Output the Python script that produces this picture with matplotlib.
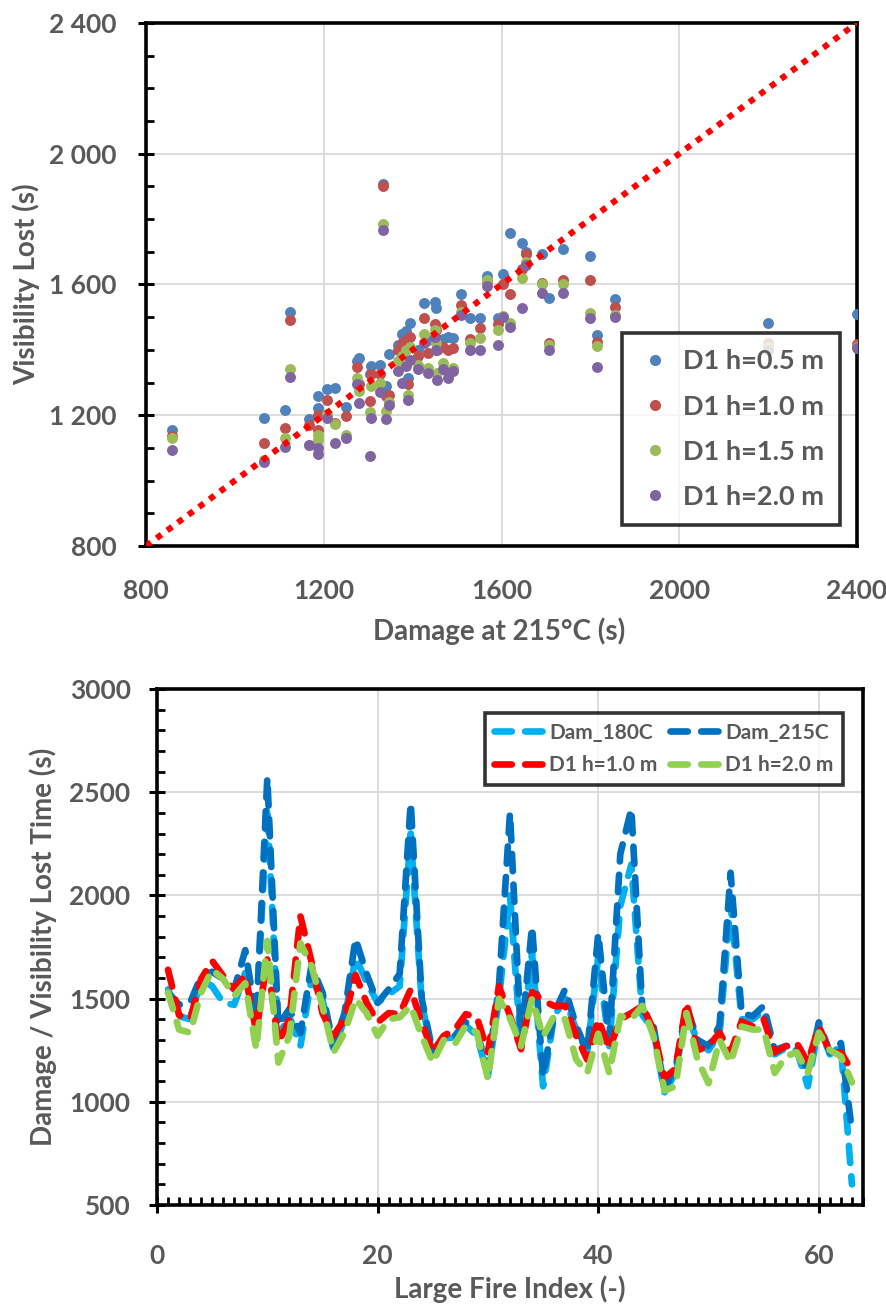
import matplotlib
matplotlib.use("Agg")
import matplotlib.pyplot as plt
from matplotlib.ticker import MultipleLocator, FuncFormatter
from matplotlib.lines import Line2D

# ---------------- data : bottom panel (per large fire) ----------------
fire_index = list(range(1, 64))

dam_180 = [1545, 1415, 1400, 1595, 1560, 1480, 1470, 1625, 1400, 2430,
           1320, 1415, 1270, 1595, 1497, 1250, 1400, 1700, 1580, 1480,
           1520, 1560, 2300, 1480, 1220, 1310, 1310, 1370, 1320, 1125,
           1500, 2000, 1260, 1720, 1075, 1415, 1500, 1350, 1240, 1700,
           1270, 1950, 2150, 1420, 1350, 1045, 1140, 1440, 1290, 1250,
           1330, 1960, 1400, 1400, 1440, 1230, 1260, 1250, 1075, 1370,
           1230, 1270, 600]

dam_215 = [1530, 1470, 1480, 1610, 1630, 1595, 1545, 1735, 1400, 2570,
           1370, 1450, 1333, 1660, 1530, 1270, 1430, 1790, 1620, 1480,
           1545, 1620, 2450, 1500, 1240, 1320, 1320, 1385, 1335, 1160,
           1560, 2400, 1300, 1850, 1125, 1430, 1545, 1370, 1240, 1815,
           1300, 2200, 2420, 1450, 1370, 1065, 1160, 1465, 1300, 1270,
           1370, 2110, 1430, 1415, 1465, 1250, 1270, 1270, 1140, 1385,
           1240, 1285, 860]

vis_h10 = [1640, 1420, 1400, 1595, 1683, 1610, 1545, 1615, 1340, 1690,
           1285, 1400, 1900, 1680, 1430, 1320, 1400, 1615, 1480, 1385,
           1430, 1425, 1545, 1385, 1240, 1320, 1350, 1425, 1410, 1240,
           1560, 1418, 1255, 1532, 1490, 1465, 1465, 1320, 1205, 1400,
           1255, 1400, 1430, 1465, 1350, 1115, 1160, 1480, 1250, 1270,
           1335, 1240, 1390, 1365, 1400, 1240, 1270, 1285, 1190, 1365,
           1240, 1240, 1150]

vis_h20 = [1530, 1350, 1335, 1530, 1640, 1595, 1513, 1575, 1255, 1780,
           1190, 1320, 1768, 1660, 1465, 1240, 1335, 1498, 1430, 1320,
           1400, 1410, 1465, 1320, 1190, 1300, 1280, 1370, 1335, 1110,
           1500, 1405, 1270, 1500, 1316, 1415, 1400, 1205, 1140, 1330,
           1140, 1415, 1400, 1465, 1320, 1055, 1075, 1430, 1205, 1090,
           1300, 1190, 1365, 1350, 1350, 1140, 1220, 1240, 1140, 1335,
           1250, 1220, 1094]

# ---------------- data : top panel (scatter) ----------------
sc_damage = [858, 1065, 1113, 1125, 1166, 1188, 1186, 1207, 1226, 1250,
             1275, 1280, 1305, 1307, 1326, 1333, 1341, 1346, 1367, 1375,
             1386, 1390, 1394, 1412, 1426, 1435, 1450, 1452, 1455, 1469,
             1480, 1491, 1508, 1529, 1551, 1568, 1592, 1604, 1619, 1645,
             1656, 1690, 1707, 1739, 1799, 1815, 1855, 2199, 2400]
sc_h05 = [1156, 1192, 1217, 1516, 1187, 1223, 1258, 1281, 1284, 1224,
          1367, 1376, 1325, 1350, 1355, 1906, 1289, 1386, 1416, 1447,
          1457, 1314, 1483, 1400, 1542, 1430, 1547, 1529, 1420, 1432,
          1440, 1437, 1571, 1498, 1498, 1625, 1498, 1631, 1758, 1727,
          1700, 1692, 1559, 1709, 1687, 1444, 1556, 1483, 1509]
sc_h10 = [1136, 1115, 1161, 1490, 1171, 1156, 1200, 1248, 1177, 1197,
          1347, 1296, 1243, 1325, 1325, 1900, 1258, 1263, 1400, 1420,
          1430, 1294, 1440, 1380, 1498, 1391, 1478, 1462, 1400, 1410,
          1400, 1406, 1537, 1432, 1467, 1610, 1478, 1600, 1572, 1646,
          1692, 1605, 1421, 1615, 1615, 1423, 1532, 1420, 1418]
sc_h15 = [1129, 1062, 1129, 1340, 1110, 1123, 1140, 1205, 1172, 1139,
          1314, 1274, 1210, 1290, 1300, 1784, 1212, 1240, 1365, 1380,
          1400, 1263, 1410, 1355, 1450, 1345, 1462, 1420, 1330, 1360,
          1330, 1345, 1515, 1420, 1437, 1615, 1462, 1503, 1483, 1620,
          1670, 1600, 1416, 1600, 1513, 1411, 1508, 1410, 1410]
sc_h20 = [1094, 1057, 1103, 1316, 1108, 1100, 1080, 1190, 1115, 1129,
          1296, 1236, 1075, 1192, 1270, 1768, 1187, 1230, 1335, 1300,
          1350, 1248, 1370, 1340, 1420, 1330, 1440, 1400, 1309, 1340,
          1314, 1335, 1508, 1401, 1401, 1595, 1414, 1500, 1470, 1529,
          1661, 1575, 1401, 1575, 1498, 1348, 1500, 1400, 1405]

scatter_labels = ["D1 h=0.5 m", "D1 h=1.0 m", "D1 h=1.5 m", "D1 h=2.0 m"]
line_labels = ["Dam_180C", "Dam_215C", "D1 h=1.0 m", "D1 h=2.0 m"]

# ---------------- style ----------------
GREY = "#595959"
plt.rcParams["font.family"] = ["Lato", "DejaVu Sans"]
plt.rcParams["font.weight"] = "bold"
TICK_FS = 19
LAB_FS = 20

fig = plt.figure(figsize=(8.87, 13.04), dpi=100)

# ================= top scatter =================
ax1 = fig.add_axes([0.1646, 0.5813, 0.8016, 0.4011])
sc_colors = ["#4F81BD", "#C0504D", "#9BBB59", "#8064A2"]
for yv, c, lab in zip([sc_h05, sc_h10, sc_h15, sc_h20], sc_colors, scatter_labels):
    ax1.scatter(sc_damage, yv, s=62, color=c, label=lab, zorder=3, linewidths=0)
ax1.plot([800, 2400], [800, 2400], color="#FF0000", lw=4.4,
         linestyle=(0, (1, 1.15)), dash_capstyle="butt", zorder=4)
ax1.set_xlim(800, 2400)
ax1.set_ylim(800, 2400)
ax1.xaxis.set_major_locator(MultipleLocator(400))
ax1.yaxis.set_major_locator(MultipleLocator(400))
ax1.yaxis.set_minor_locator(MultipleLocator(100))
ax1.yaxis.set_major_formatter(FuncFormatter(lambda v, p: f"{int(v):,}".replace(",", " ")))
ax1.grid(True, which="major", color="#D9D9D9", lw=1.3, zorder=0)
ax1.set_axisbelow(True)
for s in ax1.spines.values():
    s.set_linewidth(2.6)
    s.set_color("black")
ax1.tick_params(axis="y", which="major", direction="inout", length=12, width=2.2,
                labelsize=TICK_FS, labelcolor=GREY, pad=15)
ax1.tick_params(axis="y", which="minor", direction="in", length=6, width=2.0)
ax1.tick_params(axis="x", which="major", length=0, labelsize=TICK_FS,
                labelcolor=GREY, pad=24)
ax1.set_xlabel("Damage at 215°C (s)", fontsize=LAB_FS, color=GREY, fontweight="bold")
ax1.set_ylabel("Visibility Lost (s)", fontsize=LAB_FS, color=GREY, fontweight="bold")
ax1.xaxis.set_label_coords(0.497, -0.136)
ax1.yaxis.set_label_coords(-0.149, 0.5)

handles1 = [Line2D([], [], marker="o", linestyle="none", markersize=8,
                   markerfacecolor=c, markeredgewidth=0) for c in sc_colors]
leg1 = ax1.legend(handles1, scatter_labels, loc="lower right",
                  bbox_to_anchor=(0.976, 0.04), borderaxespad=0, fontsize=19.5,
                  frameon=True, fancybox=False, edgecolor="black", labelspacing=0.78,
                  handletextpad=0.35, borderpad=0.6, handlelength=1.3)
leg1.get_frame().set_linewidth(2.6)
for t in leg1.get_texts():
    t.set_color(GREY)
    t.set_fontweight("bold")

# ================= bottom line plot =================
ax2 = fig.add_axes([0.177, 0.0759, 0.7959, 0.3957])
line_colors = ["#00B0F0", "#0070C0", "#FF0000", "#92D050"]
lines = []
for yv, c, lab in zip([dam_180, dam_215, vis_h10, vis_h20], line_colors, line_labels):
    ln, = ax2.plot(fire_index, yv, color=c, lw=4.8, linestyle=(0, (2.6, 2.0)),
                   dash_capstyle="round", solid_joinstyle="round", label=lab, zorder=3)
    lines.append(ln)
ax2.set_xlim(0, 64)
ax2.set_ylim(500, 3000)
ax2.xaxis.set_major_locator(MultipleLocator(20))
ax2.xaxis.set_minor_locator(MultipleLocator(1))
ax2.yaxis.set_major_locator(MultipleLocator(500))
ax2.yaxis.set_minor_locator(MultipleLocator(100))
ax2.grid(True, which="major", color="#D9D9D9", lw=1.3, zorder=0)
ax2.set_axisbelow(True)
for s in ax2.spines.values():
    s.set_linewidth(2.6)
    s.set_color("black")
ax2.tick_params(axis="both", which="major", direction="inout", length=12, width=2.2,
                labelsize=TICK_FS, labelcolor=GREY)
ax2.tick_params(axis="both", which="minor", direction="in", length=6, width=2.0)
ax2.tick_params(axis="x", which="major", pad=22)
ax2.tick_params(axis="y", which="major", pad=13)
ax2.set_xlabel("Large Fire Index (-)", fontsize=LAB_FS, color=GREY, fontweight="bold")
ax2.set_ylabel("Damage / Visibility Lost Time (s)", fontsize=LAB_FS, color=GREY,
               fontweight="bold")
ax2.xaxis.set_label_coords(0.5, -0.137)
ax2.yaxis.set_label_coords(-0.142, 0.5)

order = [0, 2, 1, 3]
leg2 = ax2.legend([lines[k] for k in order], [line_labels[k] for k in order],
                  loc="upper right", bbox_to_anchor=(0.972, 0.953), borderaxespad=0,
                  ncol=2, fontsize=15, frameon=True, fancybox=False, edgecolor="black",
                  handlelength=2.4, columnspacing=0.6, handletextpad=0.25,
                  labelspacing=0.6, borderpad=0.45)
leg2.get_frame().set_linewidth(2.6)
for t in leg2.get_texts():
    t.set_color(GREY)
    t.set_fontweight("bold")

fig.savefig("out.png", dpi=100)
